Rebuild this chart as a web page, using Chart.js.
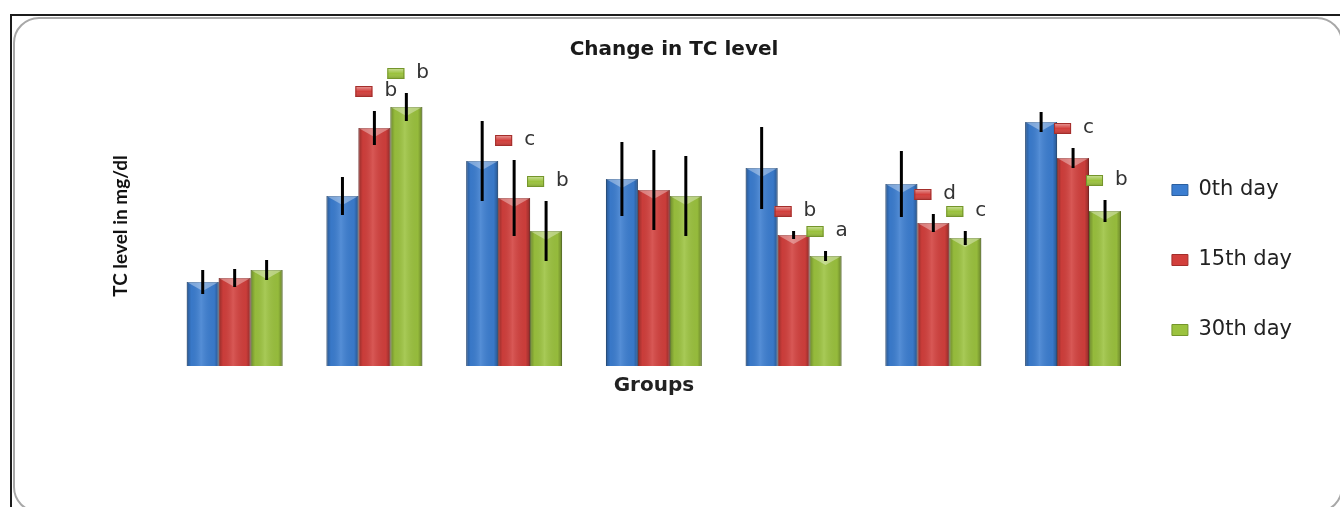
<!DOCTYPE html>
<html>
<head>
<meta charset="utf-8">
<script src="https://cdn.jsdelivr.net/npm/chart.js@4.4.1/dist/chart.umd.min.js"></script>
<style>
  html, body { margin: 0; padding: 0; background: #fff; overflow: hidden; }
  #frame { position: absolute; left: 10px; top: 14px; width: 1400px; height: 600px;
           border-left: 2px solid #1c1c1c; border-top: 2px solid #1c1c1c; }
  #card { position: absolute; left: 13px; top: 17px; width: 1330px; height: 496px;
          box-sizing: border-box; border: 2px solid #a8a8a8; border-radius: 26px; }
  #wrap { position: absolute; left: 26px; top: 0; width: 1314px; height: 507px; }
</style>
</head>
<body>
<div id="frame"></div>
<div id="card"></div>
<div id="wrap"><canvas id="myChart"></canvas></div>
<script>
// groups have no tick labels in the original
var groups = ['I', 'II', 'III', 'IV', 'V', 'VI', 'VII'];
var seriesNames = ['0th day', '15th day', '30th day'];

var day0  = [84, 170, 205, 187, 198, 182, 244];
var day15 = [88, 238, 168, 176, 131, 143, 208];
var day30 = [96, 259, 135, 170, 110, 128, 155];

var err0  = [12, 19, 40, 37, 41, 33, 10];
var err15 = [9, 17, 38, 40, 4, 9, 10];
var err30 = [10, 14, 30, 40, 5, 7, 11];

// significance letters shown next to a legend key
var letters15 = ['', 'b', 'c', '', 'b', 'd', 'c'];
var letters30 = ['', 'b', 'b', '', 'a', 'c', 'b'];

var colors = ['#3b7dd0', '#d23f3c', '#9bc23e'];
var edges  = ['#2b5f9f', '#a32e2b', '#74952b'];

var errs = [err0, err15, err30];
var letters = [null, letters15, letters30];

function shadeBar(ctx, b) {
  var left = b.x - b.width / 2, right = b.x + b.width / 2;
  var top = Math.min(b.y, b.base), bottom = Math.max(b.y, b.base);
  var g = ctx.createLinearGradient(left, 0, right, 0);
  g.addColorStop(0, 'rgba(0,0,0,0.30)');
  g.addColorStop(0.14, 'rgba(0,0,0,0.04)');
  g.addColorStop(0.45, 'rgba(255,255,255,0.13)');
  g.addColorStop(0.86, 'rgba(0,0,0,0.04)');
  g.addColorStop(1, 'rgba(0,0,0,0.32)');
  ctx.fillStyle = g;
  ctx.fillRect(left, top, right - left, bottom - top);
  // bevel at the top
  ctx.fillStyle = 'rgba(255,255,255,0.35)';
  ctx.beginPath();
  ctx.moveTo(left, top);
  ctx.lineTo(right, top);
  ctx.lineTo(b.x, top + 9);
  ctx.closePath();
  ctx.fill();
}

function drawKey(ctx, x, y, i) {
  var g = ctx.createLinearGradient(0, y - 5, 0, y + 6);
  g.addColorStop(0, 'rgba(255,255,255,0.5)');
  g.addColorStop(0.5, 'rgba(255,255,255,0)');
  g.addColorStop(1, 'rgba(0,0,0,0.2)');
  ctx.fillStyle = colors[i];
  ctx.fillRect(x, y - 5, 17, 11);
  ctx.fillStyle = g;
  ctx.fillRect(x, y - 5, 17, 11);
  ctx.strokeStyle = edges[i];
  ctx.lineWidth = 1;
  ctx.strokeRect(x + 0.5, y - 4.5, 16, 10);
}

var barExtras = {
  id: 'barExtras',
  afterLayout: function(chart) {
    // nudge the legend into place
    var lg = chart.legend;
    lg.left -= 20; lg.right -= 20;
    lg.top += 61; lg.bottom += 61;
  },
  afterDatasetsDraw: function(chart) {
    var ctx = chart.ctx;
    var yScale = chart.scales.y;
    ctx.save();
    chart.data.datasets.forEach(function(ds, i) {
      chart.getDatasetMeta(i).data.forEach(function(bar) {
        shadeBar(ctx, bar.getProps(['x', 'y', 'base', 'width'], true));
      });
    });
    chart.data.datasets.forEach(function(ds, i) {
      chart.getDatasetMeta(i).data.forEach(function(bar, j) {
        var v = ds.data[j], e = errs[i][j];
        var y1 = yScale.getPixelForValue(v + e), y2 = yScale.getPixelForValue(v - e);
        ctx.strokeStyle = '#000';
        ctx.lineWidth = 3;
        ctx.beginPath();
        ctx.moveTo(bar.x, y1);
        ctx.lineTo(bar.x, y2);
        ctx.stroke();
        if (letters[i] && letters[i][j]) {
          var ly = y1 - 20;
          drawKey(ctx, bar.x - 19, ly, i);
          ctx.fillStyle = '#333';
          ctx.font = '20px "DejaVu Sans"';
          ctx.textBaseline = 'middle';
          ctx.textAlign = 'left';
          ctx.fillText(letters[i][j], bar.x + 10, ly);
        }
      });
    });
    ctx.restore();
  }
};

var ctx = document.getElementById('myChart').getContext('2d');
var myChart = new Chart(ctx, {
  type: 'bar',
  data: {
    labels: groups,
    datasets: [{
        label: seriesNames[0],
        data: day0,
        backgroundColor: colors[0],
        borderColor: edges[0],
        borderWidth: 1
      }, {
        label: seriesNames[1],
        data: day15,
        backgroundColor: colors[1],
        borderColor: edges[1],
        borderWidth: 1
      }, {
        label: seriesNames[2],
        data: day30,
        backgroundColor: colors[2],
        borderColor: edges[2],
        borderWidth: 1
      }
    ]
  },
  options: {
    responsive: true,
    maintainAspectRatio: false,
    animation: false,
    layout: { padding: { top: 0, bottom: 109, left: 0, right: 18 } },
    datasets: {
      bar: { categoryPercentage: 0.686, barPercentage: 1.0 }
    },
    scales: {
      x: {
        grid: { display: false },
        border: { display: false },
        ticks: { display: false },
        title: {
          display: true,
          text: 'Groups',
          color: '#222',
          font: { family: '"DejaVu Sans"', size: 20, weight: 'bold' },
          padding: { top: 0, bottom: 0 }
        }
      },
      y: {
        min: 0,
        max: 280,
        grid: { display: false },
        border: { display: false },
        ticks: { display: false },
        title: {
          display: true,
          text: 'TC level in mg/dl',
          color: '#111',
          font: { family: 'Lato', size: 19, weight: 'bold' },
          padding: { top: 83, bottom: 25 }
        }
      }
    },
    plugins: {
      title: {
        display: true,
        text: 'Change in TC level',
        color: '#1a1a1a',
        font: { family: '"DejaVu Sans"', size: 20, weight: 'bold' },
        padding: { top: 38, bottom: 24 }
      },
      legend: {
        position: 'right',
        labels: {
          color: '#222',
          boxWidth: 16,
          boxHeight: 11,
          padding: 49,
          font: { family: '"DejaVu Sans"', size: 21 }
        }
      },
      tooltip: { enabled: false }
    }
  },
  plugins: [barExtras]
});
</script>
</body>
</html>
